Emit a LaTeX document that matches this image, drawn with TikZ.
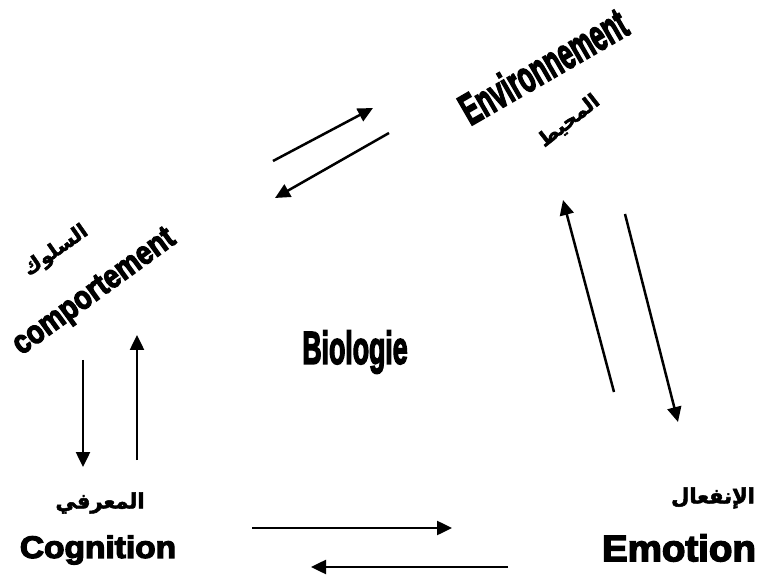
\documentclass[tikz,border=0pt]{standalone}
\usepackage{fontspec}
\setmainfont{Liberation Sans}
\newfontfamily\heavyfont[BoldFeatures={FakeBold=4}]{Liberation Sans}
\newfontfamily\arabicfont[Script=Arabic,BoldFeatures={FakeBold=2.5}]{DejaVu Sans}
\TeXXeTstate=1
\usetikzlibrary{arrows.meta}

\begin{document}
\begin{tikzpicture}[x=1pt,y=-1pt,>={Triangle[length=15pt,width=14pt]},
	link/.style={->,line width=2.5pt},
	fr label/.style={inner sep=0pt},
	ar label/.style={inner sep=0pt}]
	
	\useasboundingbox (0,0) rectangle (758,577);
	
	% labels
	\node[fr label, rotate=30, xscale=0.58, font=\heavyfont\bfseries\fontsize{44}{44}\selectfont] (env) at (543,66) {Environnement};
	\node[ar label, rotate=38, font=\arabicfont\bfseries\fontsize{20}{20}\selectfont] (muhit) at (569,121) {\beginR المحيط\endR};
	\node[fr label, rotate=36, xscale=0.84, font=\heavyfont\bfseries\fontsize{33}{33}\selectfont] (comp) at (95,293) {comportement};
	\node[ar label, rotate=35, font=\arabicfont\bfseries\fontsize{20}{20}\selectfont] (suluk) at (56,251) {\beginR السلوك\endR};
	\node[fr label, xscale=0.58, font=\heavyfont\bfseries\fontsize{46}{46}\selectfont] (bio) at (355,352) {Biologie};
	\node[ar label, font=\arabicfont\bfseries\fontsize{21}{21}\selectfont] (maarifi) at (100,503) {\beginR المعرفي\endR};
	\node[fr label, xscale=1.08, font=\heavyfont\bfseries\fontsize{31}{31}\selectfont] (cog) at (98,550) {Cognition};
	\node[ar label, font=\arabicfont\bfseries\fontsize{21}{21}\selectfont] (infiaal) at (713,498) {\beginR الإنفعال\endR};
	\node[fr label, xscale=1.04, font=\heavyfont\bfseries\fontsize{37}{37}\selectfont] (emo) at (679,548) {Emotion};
	
	% arrow ends
	\coordinate (a1) at (273,161);
	\coordinate (a2) at (373,108);
	\coordinate (b1) at (389,133);
	\coordinate (b2) at (275,198);
	\coordinate (c1) at (83,360);
	\coordinate (c2) at (83,467);
	\coordinate (d1) at (137,460);
	\coordinate (d2) at (137,335);
	\coordinate (e1) at (252,528);
	\coordinate (e2) at (452,528);
	\coordinate (f1) at (508,567);
	\coordinate (f2) at (311,567);
	\coordinate (g1) at (614,392);
	\coordinate (g2) at (563,200);
	\coordinate (h1) at (625,214);
	\coordinate (h2) at (678,422);
	
	\path[link]
	(a1) edge (a2)
	(b1) edge (b2)
	(c1) edge (c2)
	(d1) edge (d2)
	(e1) edge (e2)
	(f1) edge (f2)
	(g1) edge (g2)
	(h1) edge (h2);
\end{tikzpicture}
\end{document}
